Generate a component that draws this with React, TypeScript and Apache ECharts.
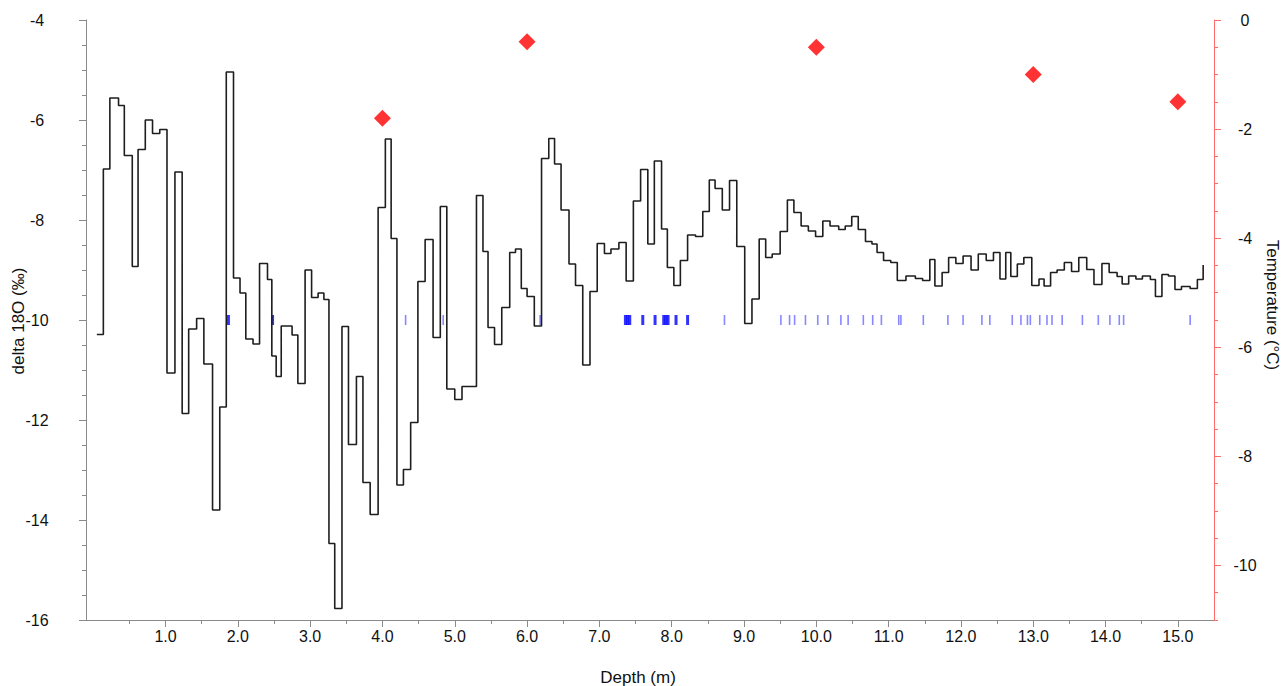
import React, { useEffect, useRef } from 'react';
import * as echarts from 'echarts';

// Step boundaries (depth, m) where each δ18O sample interval begins; last entry closes the curve
const depthStarts = [
  0.05, 0.14, 0.23, 0.35, 0.43, 0.54, 0.62, 0.72, 0.82, 0.92,
  1.02, 1.13, 1.23, 1.32, 1.43, 1.53, 1.65, 1.75, 1.84, 1.94,
  2.03, 2.11, 2.21, 2.30, 2.41, 2.47, 2.53, 2.60, 2.75, 2.83,
  2.93, 3.02, 3.11, 3.19, 3.26, 3.34, 3.44, 3.53, 3.64, 3.73,
  3.83, 3.94, 4.04, 4.12, 4.20, 4.29, 4.39, 4.49, 4.59, 4.70,
  4.80, 4.89, 5.00, 5.10, 5.30, 5.39, 5.46, 5.55, 5.65, 5.76,
  5.84, 5.92, 6.00, 6.10, 6.20, 6.30, 6.38, 6.47, 6.58, 6.67,
  6.77, 6.87, 6.97, 7.07, 7.16, 7.27, 7.37, 7.47, 7.57, 7.67,
  7.76, 7.86, 7.94, 8.03, 8.12, 8.22, 8.33, 8.43, 8.52, 8.60,
  8.70, 8.80, 8.90, 9.01, 9.11, 9.21, 9.30, 9.39, 9.50, 9.60,
  9.69, 9.79, 9.89, 9.99, 10.09, 10.19, 10.31, 10.40, 10.49, 10.58,
  10.68, 10.77, 10.84, 10.93, 11.03, 11.12, 11.24, 11.37, 11.47, 11.57,
  11.64, 11.74, 11.83, 11.93, 12.03, 12.14, 12.24, 12.35, 12.45, 12.54,
  12.62, 12.69, 12.78, 12.87, 12.98, 13.08, 13.15, 13.24, 13.33, 13.43,
  13.53, 13.63, 13.74, 13.84, 13.95, 14.05, 14.16, 14.23, 14.32, 14.42,
  14.51, 14.62, 14.69, 14.78, 14.87, 14.96, 15.05, 15.17, 15.27, 15.35,
];

const delta18O = [
  -10.29, -6.98, -5.56, -5.71, -6.71, -8.93, -6.59, -6.00, -6.27, -6.19,
  -11.06, -7.04, -11.87, -10.18, -9.97, -10.88, -13.80, -11.74, -5.04, -9.16,
  -9.46, -10.38, -10.48, -8.87, -9.19, -10.72, -11.13, -10.12, -10.30, -11.27,
  -9.00, -9.55, -9.46, -9.59, -14.47, -15.77, -10.13, -12.49, -11.13, -13.25,
  -13.89, -7.75, -6.38, -8.37, -13.30, -12.99, -12.05, -9.23, -8.39, -10.35,
  -7.73, -11.38, -11.59, -11.33, -7.51, -8.63, -10.15, -10.49, -9.75, -8.65,
  -8.58, -9.37, -9.53, -10.12, -6.77, -6.37, -6.88, -7.80, -8.88, -9.31,
  -10.90, -9.43, -8.47, -8.67, -8.58, -8.45, -9.22, -7.62, -6.99, -8.48,
  -6.82, -8.18, -8.95, -9.31, -8.81, -8.30, -8.33, -7.83, -7.20, -7.37,
  -7.80, -7.21, -8.53, -10.07, -9.58, -8.38, -8.75, -8.68, -8.23, -7.60,
  -7.85, -8.12, -8.22, -8.33, -8.02, -8.12, -8.19, -8.12, -7.93, -8.19,
  -8.43, -8.48, -8.65, -8.81, -8.85, -9.21, -9.12, -9.17, -9.21, -8.79,
  -9.32, -9.05, -8.75, -8.87, -8.72, -9.00, -8.68, -8.81, -8.65, -9.18,
  -8.65, -9.13, -8.88, -8.75, -9.31, -9.18, -9.32, -9.05, -9.00, -8.85,
  -9.03, -8.75, -8.99, -9.29, -8.87, -9.05, -9.13, -9.28, -9.12, -9.18,
  -9.12, -9.19, -9.53, -9.09, -9.12, -9.39, -9.33, -9.37, -9.19, -8.90,
];

// Temperature points (right axis)
const tempDepths = [4.0, 6.0, 10.0, 13.0, 15.0];
const temperatures = [-1.8, -0.4, -0.5, -1.0, -1.5];

// Sample marks drawn at δ18O = -10
const markLevel = -10;
const marksStrong = [1.87, 2.48, 7.36, 7.39, 7.42, 7.60, 7.77, 7.89, 7.92, 7.95, 8.06, 8.22];
const marksFaint = [
  4.32, 4.84, 6.18, 8.73, 9.51, 9.63, 9.70, 9.85, 10.02, 10.16, 10.34, 10.44,
  10.65, 10.78, 10.90, 11.14, 11.17, 11.48, 11.82, 12.03, 12.29, 12.40, 12.71,
  12.83, 12.92, 12.96, 13.09, 13.19, 13.26, 13.40, 13.68, 13.90, 14.06, 14.19,
  14.25, 15.17,
];

// Axis ticks / labels
const depthLabels = [1, 2, 3, 4, 5, 6, 7, 8, 9, 10, 11, 12, 13, 14, 15];
const depthMinor = [0.5, 1.5, 2.5, 3.5, 4.5, 5.5, 6.5, 7.5, 8.5, 9.5, 10.5, 11.5, 12.5, 13.5, 14.5];
const deltaLabels = [-16, -14, -12, -10, -8, -6, -4];
const deltaMinor = [
  -15.5, -15, -14.5, -13.5, -13, -12.5, -11.5, -11, -10.5, -9.5, -9, -8.5,
  -7.5, -7, -6.5, -5.5, -5, -4.5,
];
const tempLabels = [-10, -8, -6, -4, -2, 0];
const tempMinor = [
  -11, -10.5, -9.5, -9, -8.5, -7.5, -7, -6.5, -5.5, -5, -4.5, -3.5, -3, -2.5,
  -1.5, -1, -0.5,
];

const FONT = '"Liberation Sans", Arial, Helvetica, sans-serif';
const GREY = '#8a8a8a';
const RED = '#ff6b6b';

export default function App() {
  const ref = useRef<HTMLDivElement>(null);

  useEffect(() => {
    if (!ref.current) return;
    const chart = echarts.init(ref.current, null, { renderer: 'svg' });

    const stepData = depthStarts.map((d, i) => [d, delta18O[i]]);
    const tempData = tempDepths.map((d, i) => [d, temperatures[i]]);
    const strongData = marksStrong.map((d) => [d, markLevel]);
    const faintData = marksFaint.map((d) => [d, markLevel]);

    const labelStyle = { color: '#111', fontSize: 16, fontFamily: FONT };

    const option: any = {
      animation: false,
      textStyle: { fontFamily: FONT },
      grid: { left: 86, top: 20, width: 1128, height: 600, containLabel: false },
      xAxis: [
        {
          type: 'value', min: -0.1, max: 15.5, position: 'bottom',
          axisLine: { show: true, onZero: false, lineStyle: { color: GREY, width: 1 } },
          axisTick: { show: true, length: 7, customValues: depthLabels, lineStyle: { color: GREY } },
          axisLabel: {
            ...labelStyle, margin: 8, customValues: depthLabels,
            formatter: (v: number) => v.toFixed(1),
          },
          splitLine: { show: false },
        },
        {
          type: 'value', min: -0.1, max: 15.5, position: 'bottom',
          axisLine: { show: false, onZero: false },
          axisTick: { show: true, length: 4, customValues: depthMinor, lineStyle: { color: GREY } },
          axisLabel: { show: false },
          splitLine: { show: false },
        },
      ],
      yAxis: [
        {
          type: 'value', min: -16, max: -4, position: 'left',
          axisLine: { show: true, onZero: false, lineStyle: { color: GREY, width: 1 } },
          axisTick: { show: true, length: 7, customValues: deltaLabels, lineStyle: { color: GREY } },
          axisLabel: { ...labelStyle, margin: 49, align: 'center', customValues: deltaLabels },
          splitLine: { show: false },
        },
        {
          type: 'value', min: -16, max: -4, position: 'left',
          axisLine: { show: false, onZero: false },
          axisTick: { show: true, length: 4, customValues: deltaMinor, lineStyle: { color: GREY } },
          axisLabel: { show: false },
          splitLine: { show: false },
        },
        {
          type: 'value', min: -11, max: 0, position: 'right',
          axisLine: { show: true, onZero: false, lineStyle: { color: RED, width: 1 } },
          axisTick: { show: true, length: 7, customValues: tempLabels, lineStyle: { color: RED } },
          axisLabel: { ...labelStyle, margin: 31, align: 'center', customValues: tempLabels },
          splitLine: { show: false },
        },
        {
          type: 'value', min: -11, max: 0, position: 'right',
          axisLine: { show: false, onZero: false },
          axisTick: { show: true, length: 4, customValues: tempMinor, lineStyle: { color: RED } },
          axisLabel: { show: false },
          splitLine: { show: false },
        },
      ],
      graphic: [
        {
          type: 'text', x: 18, y: 321, rotation: Math.PI / 2,
          style: {
            text: 'delta 18O (‰)', fill: '#111', font: `17px ${FONT}`,
            textAlign: 'center', textVerticalAlign: 'middle',
          },
        },
        {
          type: 'text', x: 1272, y: 305, rotation: -Math.PI / 2,
          style: {
            text: 'Temperature (°C)', fill: '#111', font: `17px ${FONT}`,
            textAlign: 'center', textVerticalAlign: 'middle',
          },
        },
        {
          type: 'text', x: 638, y: 677,
          style: {
            text: 'Depth (m)', fill: '#111', font: `17px ${FONT}`,
            textAlign: 'center', textVerticalAlign: 'middle',
          },
        },
      ],
      series: [
        {
          name: 'delta 18O', type: 'line', step: 'end', xAxisIndex: 0, yAxisIndex: 0,
          data: stepData, symbol: 'none',
          lineStyle: { color: '#1e1e1e', width: 1.6 },
          z: 3,
        },
        {
          name: 'Sample marks', type: 'scatter', xAxisIndex: 0, yAxisIndex: 0,
          data: strongData, symbol: 'rect', symbolSize: [3, 10],
          itemStyle: { color: '#0000ff' }, z: 2,
        },
        {
          name: 'Sample marks (faint)', type: 'scatter', xAxisIndex: 0, yAxisIndex: 0,
          data: faintData, symbol: 'rect', symbolSize: [1.6, 10],
          itemStyle: { color: '#6a6aff' }, z: 2,
        },
        {
          name: 'Temperature', type: 'scatter', xAxisIndex: 0, yAxisIndex: 2,
          data: tempData, symbol: 'diamond', symbolSize: 17,
          itemStyle: { color: '#ff0000' }, z: 4,
        },
      ],
    };

    chart.setOption(option);
    return () => chart.dispose();
  }, []);

  return (
    <div
      ref={ref}
      style={{ position: 'fixed', left: 0, top: 0, width: 1285, height: 686, background: '#fff' }}
    />
  );
}
